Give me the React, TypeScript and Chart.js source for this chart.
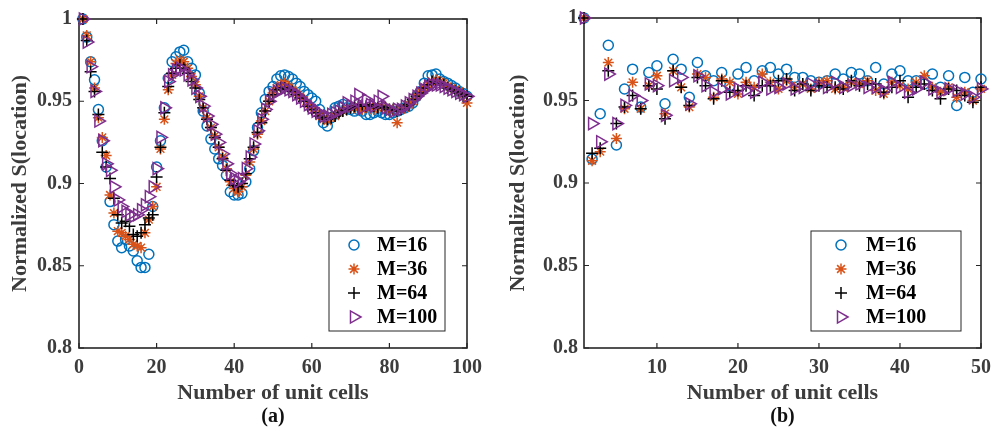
import React, { useEffect, useRef } from 'react';
import { Chart, registerables } from 'chart.js';

Chart.register(...registerables);

// ---------- data ----------
const seriesLabels = ['M=16', 'M=36', 'M=64', 'M=100'];
const seriesColors = ['#0072BD', '#D95319', '#000000', '#7E2F8E'];
const seriesStyles = ['circle', 'star', 'cross', 'triangle'];

const cellsA = Array.from({ length: 100 }, (_, i) => i + 1);
const cellsB = Array.from({ length: 50 }, (_, i) => i + 1);

const xTicksA = [0, 20, 40, 60, 80, 100];
const xTicksB = [10, 20, 30, 40, 50];
const yTicks = [0.8, 0.85, 0.9, 0.95, 1];

const aM16 = [
  1.000, 0.989, 0.974, 0.963, 0.945, 0.926, 0.910, 0.889, 0.875, 0.865,
  0.861, 0.866, 0.862, 0.859, 0.853, 0.849, 0.849, 0.857, 0.886, 0.910,
  0.926, 0.946, 0.964, 0.974, 0.977, 0.980, 0.981, 0.974, 0.970, 0.966,
  0.955, 0.944, 0.935, 0.927, 0.921, 0.915, 0.911, 0.905, 0.895, 0.893,
  0.893, 0.894, 0.901, 0.909, 0.920, 0.934, 0.943, 0.951, 0.956, 0.959,
  0.9635, 0.9655, 0.966, 0.965, 0.9635, 0.961, 0.959, 0.956, 0.954, 0.952,
  0.950, 0.945, 0.937, 0.935, 0.940, 0.946, 0.947, 0.948, 0.946, 0.945,
  0.944, 0.945, 0.944, 0.942, 0.942, 0.943, 0.944, 0.943, 0.942, 0.942,
  0.943, 0.944, 0.945, 0.946, 0.947, 0.949, 0.953, 0.956, 0.961, 0.9655,
  0.966, 0.9665, 0.9635, 0.962, 0.961, 0.9596, 0.958, 0.956, 0.9547, 0.953,
];
const aM36 = [
  1.000, 0.990, 0.974, 0.958, 0.940, 0.928, 0.917, 0.893, 0.882, 0.871,
  0.870, 0.868, 0.866, 0.863, 0.862, 0.861, 0.870, 0.878, 0.886, 0.898,
  0.921, 0.939, 0.957, 0.966, 0.973, 0.975, 0.974, 0.970, 0.965, 0.960,
  0.953, 0.946, 0.940, 0.934, 0.929, 0.922, 0.916, 0.909, 0.901, 0.897,
  0.895, 0.898, 0.905, 0.913, 0.921, 0.930, 0.938, 0.944, 0.950, 0.955,
  0.958, 0.960, 0.961, 0.959, 0.957, 0.955, 0.953, 0.951, 0.948, 0.946,
  0.944, 0.941, 0.939, 0.938, 0.940, 0.941, 0.943, 0.944, 0.945, 0.946,
  0.946, 0.947, 0.945, 0.946, 0.947, 0.945, 0.946, 0.947, 0.946, 0.944,
  0.945, 0.937, 0.945, 0.946, 0.948, 0.950, 0.953, 0.956, 0.958, 0.960,
  0.962, 0.963, 0.962, 0.961, 0.959, 0.958, 0.957, 0.956, 0.954, 0.949,
];
const aM64 = [
  1.000, 0.987, 0.968, 0.956, 0.942, 0.919, 0.910, 0.903, 0.891, 0.881,
  0.876, 0.877, 0.874, 0.869, 0.868, 0.870, 0.875, 0.879, 0.881, 0.904,
  0.922, 0.943, 0.959, 0.967, 0.970, 0.972, 0.970, 0.967, 0.962, 0.958,
  0.951, 0.946, 0.939, 0.934, 0.928, 0.922, 0.915, 0.908, 0.902, 0.899,
  0.898, 0.900, 0.906, 0.915, 0.922, 0.931, 0.937, 0.944, 0.950, 0.954,
  0.957, 0.958, 0.958, 0.957, 0.956, 0.954, 0.952, 0.950, 0.947, 0.945,
  0.943, 0.941, 0.940, 0.939, 0.940, 0.941, 0.943, 0.944, 0.945, 0.946,
  0.947, 0.947, 0.948, 0.947, 0.948, 0.947, 0.946, 0.947, 0.946, 0.945,
  0.945, 0.944, 0.945, 0.947, 0.948, 0.951, 0.953, 0.955, 0.958, 0.960,
  0.962, 0.961, 0.961, 0.960, 0.958, 0.957, 0.956, 0.955, 0.954, 0.953,
];
const aM100 = [
  1.000, 0.986, 0.971, 0.956, 0.938, 0.926, 0.912, 0.908, 0.898, 0.890,
  0.886, 0.883, 0.881, 0.880, 0.881, 0.884, 0.887, 0.892, 0.898, 0.909,
  0.928, 0.946, 0.962, 0.966, 0.969, 0.970, 0.969, 0.966, 0.963, 0.958,
  0.953, 0.947, 0.941, 0.936, 0.930, 0.925, 0.918, 0.912, 0.906, 0.903,
  0.901, 0.903, 0.909, 0.916, 0.924, 0.932, 0.939, 0.945, 0.950, 0.954,
  0.956, 0.957, 0.958, 0.957, 0.956, 0.954, 0.952, 0.950, 0.948, 0.946,
  0.944, 0.943, 0.941, 0.941, 0.942, 0.943, 0.944, 0.946, 0.949, 0.947,
  0.950, 0.954, 0.946, 0.951, 0.948, 0.947, 0.950, 0.953, 0.946, 0.945,
  0.944, 0.945, 0.945, 0.947, 0.949, 0.951, 0.953, 0.955, 0.957, 0.959,
  0.960, 0.960, 0.960, 0.959, 0.958, 0.957, 0.956, 0.955, 0.954, 0.953,
];

const bM16 = [
  1.000, 0.9145, 0.942, 0.9835, 0.923, 0.957, 0.969, 0.946, 0.967, 0.971,
  0.948, 0.975, 0.969, 0.952, 0.973, 0.965, 0.962, 0.967, 0.959, 0.966,
  0.970, 0.962, 0.968, 0.970, 0.966, 0.969, 0.964, 0.964, 0.962, 0.961,
  0.962, 0.966, 0.963, 0.967, 0.966, 0.962, 0.970, 0.960, 0.966, 0.968,
  0.962, 0.962, 0.960, 0.966, 0.958, 0.965, 0.947, 0.964, 0.955, 0.963,
];
const bM36 = [
  1.000, 0.9135, 0.919, 0.973, 0.927, 0.945, 0.961, 0.945, 0.959, 0.965,
  0.942, 0.968, 0.958, 0.946, 0.966, 0.964, 0.952, 0.963, 0.961, 0.954,
  0.961, 0.958, 0.966, 0.961, 0.957, 0.962, 0.958, 0.960, 0.957, 0.961,
  0.962, 0.957, 0.958, 0.961, 0.960, 0.962, 0.956, 0.954, 0.961, 0.959,
  0.957, 0.961, 0.965, 0.958, 0.955, 0.958, 0.952, 0.955, 0.950, 0.957,
];
const bM64 = [
  1.000, 0.918, 0.921, 0.968, 0.936, 0.946, 0.953, 0.945, 0.959, 0.957,
  0.939, 0.968, 0.958, 0.947, 0.964, 0.959, 0.951, 0.962, 0.955, 0.956,
  0.959, 0.953, 0.959, 0.959, 0.962, 0.963, 0.956, 0.960, 0.956, 0.959,
  0.958, 0.958, 0.957, 0.962, 0.959, 0.960, 0.960, 0.955, 0.958, 0.962,
  0.952, 0.958, 0.960, 0.956, 0.951, 0.957, 0.956, 0.953, 0.949, 0.958,
];
const bM100 = [
  1.000, 0.936, 0.925, 0.966, 0.936, 0.947, 0.953, 0.950, 0.960, 0.959,
  0.941, 0.962, 0.964, 0.948, 0.965, 0.959, 0.955, 0.957, 0.954, 0.957,
  0.956, 0.955, 0.961, 0.957, 0.958, 0.960, 0.957, 0.958, 0.960, 0.959,
  0.958, 0.961, 0.958, 0.959, 0.960, 0.958, 0.958, 0.956, 0.961, 0.958,
  0.955, 0.957, 0.961, 0.957, 0.955, 0.957, 0.956, 0.954, 0.952, 0.957,
];

// ---------- styling ----------
const FONT = '"Liberation Serif", "Times New Roman", serif';
const AXIS_COLOR = '#262626';
const TEXT_COLOR = '#3c3c3c';
const markerRadius = { circle: 5, star: 5.5, cross: 6, triangle: 7 };

function drawMarker(ctx, style, x, y, color) {
  const r = markerRadius[style];
  ctx.save();
  ctx.strokeStyle = color;
  ctx.lineWidth = 1.5;
  ctx.beginPath();
  if (style === 'circle') {
    ctx.arc(x, y, r, 0, Math.PI * 2);
  } else if (style === 'cross' || style === 'star') {
    ctx.moveTo(x - r, y); ctx.lineTo(x + r, y);
    ctx.moveTo(x, y - r); ctx.lineTo(x, y + r);
    if (style === 'star') {
      const d = r * Math.SQRT1_2;
      ctx.moveTo(x - d, y - d); ctx.lineTo(x + d, y + d);
      ctx.moveTo(x - d, y + d); ctx.lineTo(x + d, y - d);
    }
  } else if (style === 'triangle') {
    ctx.moveTo(x + r, y);
    ctx.lineTo(x - r / 2, y - (r * Math.sqrt(3)) / 2);
    ctx.lineTo(x - r / 2, y + (r * Math.sqrt(3)) / 2);
    ctx.closePath();
  }
  ctx.stroke();
  ctx.restore();
}

const framePlugin = {
  id: 'matlabFrame',
  beforeDatasetsDraw(chart, _args, opts) {
    const { ctx, chartArea, scales } = chart;
    const { left, right, top, bottom } = chartArea;
    ctx.save();
    ctx.strokeStyle = AXIS_COLOR;
    ctx.lineWidth = 1.6;
    ctx.strokeRect(left, top, right - left, bottom - top);
    const tl = 5;
    ctx.beginPath();
    scales.x.ticks.forEach((t) => {
      const px = scales.x.getPixelForValue(t.value);
      ctx.moveTo(px, bottom); ctx.lineTo(px, bottom - tl);
      ctx.moveTo(px, top); ctx.lineTo(px, top + tl);
    });
    scales.y.ticks.forEach((t) => {
      const py = scales.y.getPixelForValue(t.value);
      ctx.moveTo(left, py); ctx.lineTo(left + tl, py);
      ctx.moveTo(right, py); ctx.lineTo(right - tl, py);
    });
    ctx.lineWidth = 1.2;
    ctx.stroke();
    ctx.restore();
  },
  afterDraw(chart, _args, opts) {
    const { ctx, chartArea } = chart;
    // legend box
    const bx = chartArea.right - opts.legendOffset;
    const by = chartArea.bottom - 117;
    ctx.save();
    ctx.fillStyle = '#ffffff';
    ctx.fillRect(bx, by, opts.legendWidth, 100);
    ctx.strokeStyle = AXIS_COLOR;
    ctx.lineWidth = 1;
    ctx.strokeRect(bx, by, opts.legendWidth, 100);
    const rows = [14, 38, 62, 86];
    ctx.font = `bold 20px ${FONT}`;
    ctx.textBaseline = 'middle';
    ctx.textAlign = 'left';
    seriesLabels.forEach((lab, i) => {
      drawMarker(ctx, seriesStyles[i], bx + opts.markerDx, by + rows[i], seriesColors[i]);
      ctx.fillStyle = '#000000';
      ctx.fillText(lab, bx + opts.textDx, by + rows[i] + 1);
    });
    // panel label
    ctx.font = `bold 20px ${FONT}`;
    ctx.textAlign = 'center';
    ctx.fillStyle = '#111111';
    ctx.fillText(opts.panelLabel, (chartArea.left + chartArea.right) / 2, 417);
    ctx.restore();
  },
};

function buildConfig(p) {
  const seriesData = p.series;
  const datasets = seriesData.map((ys, i) => ({
    label: seriesLabels[i],
    data: p.xs.map((x, j) => ({ x, y: ys[j] })),
    showLine: false,
    pointStyle: seriesStyles[i],
    pointRadius: markerRadius[seriesStyles[i]],
    pointRotation: seriesStyles[i] === 'triangle' ? 90 : 0,
    pointBorderColor: seriesColors[i],
    pointBackgroundColor: 'rgba(0,0,0,0)',
    pointBorderWidth: 1.5,
    order: 4 - i,
    clip: false,
  }));
  return {
    type: 'scatter',
    data: { datasets },
    plugins: [framePlugin],
    options: {
      animation: false,
      responsive: false,
      events: [],
      layout: { padding: { left: 0, top: 8, right: p.padRight, bottom: 0 } },
      plugins: {
        legend: { display: false },
        tooltip: { enabled: false },
        matlabFrame: {
          legendOffset: p.legendOffset,
          legendWidth: p.legendWidth,
          markerDx: p.markerDx,
          textDx: p.textDx,
          panelLabel: p.panelLabel,
        },
      },
      scales: {
        x: {
          type: 'linear',
          min: p.xMin,
          max: p.xMax,
          afterBuildTicks: (s) => { s.ticks = p.xTicks.map((v) => ({ value: v })); },
          afterFit: (s) => { s.height = 85; },
          grid: { display: false, drawTicks: false },
          border: { display: false },
          ticks: {
            padding: 8,
            color: TEXT_COLOR,
            font: { family: FONT, size: 20, weight: 'bold' },
            maxRotation: 0,
            callback: (v) => String(v),
          },
          title: {
            display: true,
            text: 'Number of unit cells',
            color: TEXT_COLOR,
            font: { family: FONT, size: 22, weight: 'bold' },
            padding: { top: 0, bottom: 26 },
          },
        },
        y: {
          type: 'linear',
          min: 0.8,
          max: 1,
          afterBuildTicks: (s) => { s.ticks = yTicks.map((v) => ({ value: v })); },
          afterFit: (s) => { s.width = p.yAxisWidth; },
          grid: { display: false, drawTicks: false },
          border: { display: false },
          ticks: {
            padding: p.yTickPad,
            color: TEXT_COLOR,
            font: { family: FONT, size: 20, weight: 'bold' },
            callback: (v) => String(v),
          },
          title: {
            display: true,
            text: 'Normalized S(location)',
            color: TEXT_COLOR,
            font: { family: FONT, size: 22, weight: 'bold' },
            padding: { top: p.yTitlePad, bottom: 0 },
          },
        },
      },
    },
  };
}

function Panel(props) {
  const ref = useRef(null);
  useEffect(() => {
    const chart = new Chart(ref.current, buildConfig(props.params));
    return () => chart.destroy();
  }, []);
  return (
    <canvas
      ref={ref}
      width={props.width}
      height={433}
      style={{ position: 'absolute', left: props.left, top: 0, width: props.width, height: 433 }}
    />
  );
}

const panelA = {
  xs: cellsA,
  series: [aM16, aM36, aM64, aM100],
  xMin: 0,
  xMax: 100,
  xTicks: xTicksA,
  yAxisWidth: 79,
  yTickPad: 7,
  yTitlePad: 6.8,
  padRight: 17,
  legendOffset: 138,
  legendWidth: 116,
  markerDx: 25,
  textDx: 48,
  panelLabel: '(a)',
};

const panelB = {
  xs: cellsB,
  series: [bM16, bM36, bM64, bM100],
  xMin: 1,
  xMax: 50,
  xTicks: xTicksB,
  yAxisWidth: 84,
  yTickPad: 6,
  yTitlePad: 4.8,
  padRight: 11,
  legendOffset: 170,
  legendWidth: 150,
  markerDx: 30,
  textDx: 55,
  panelLabel: '(b)',
};

export default function App() {
  return (
    <div style={{ position: 'absolute', left: 0, top: 0, width: 999, height: 433, background: '#ffffff' }}>
      <Panel params={panelA} left={0} width={490} />
      <Panel params={panelB} left={500} width={499} />
    </div>
  );
}
